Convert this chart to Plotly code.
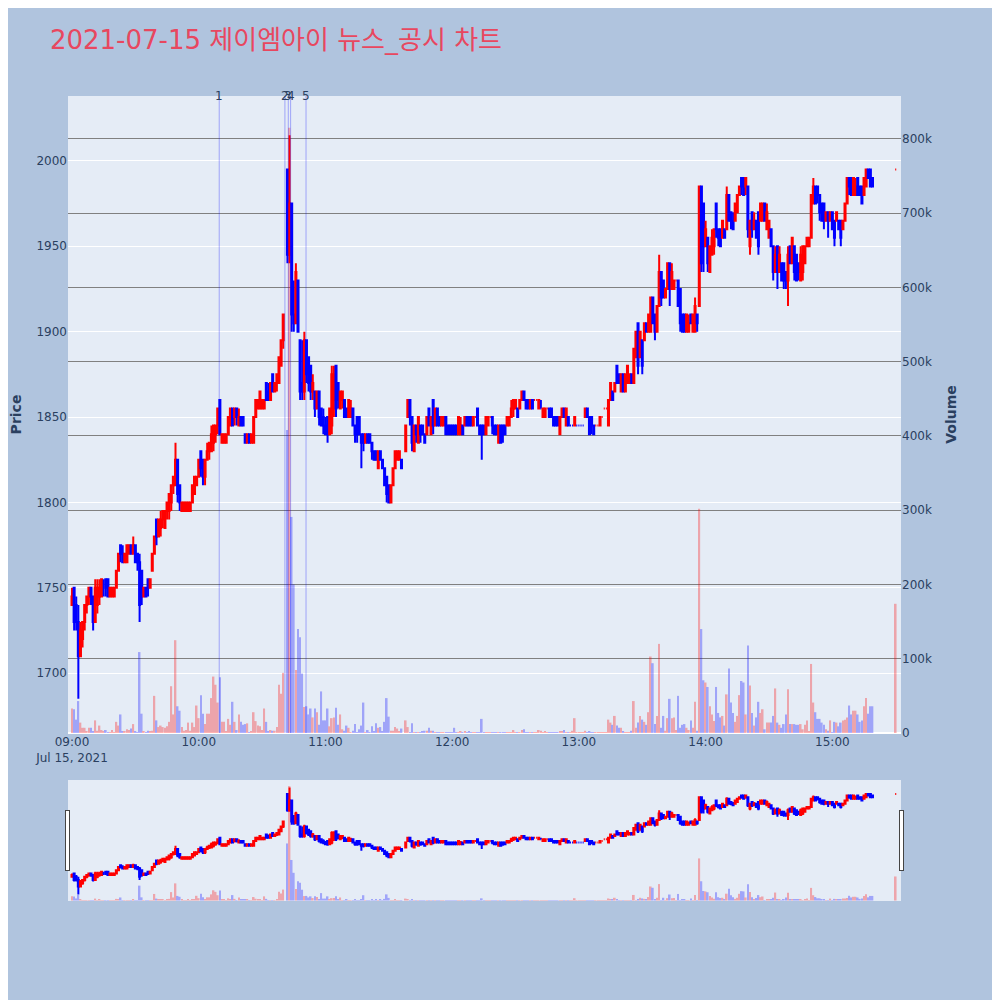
import pandas as pd
import plotly.graph_objects as go

# 1-minute candles 09:00-15:19 plus the 15:30 closing auction (None = no trade)
opens = [
    1740, 1750, 1740, 1730, 1710, 1720, 1730, 1740, 1745, 1750,
    1745, 1730, 1740, 1745, 1745, 1750, 1755, 1755, 1745, 1745,
    1745, 1750, 1760, 1775, 1770, 1765, 1765, 1770, 1775, 1770,
    1775, 1770, 1765, 1760, 1745, 1750, 1755, 1750, 1760, 1770,
    1790, 1780, 1785, 1790, 1785, 1795, 1795, 1800, 1810, 1810,
    1825, 1810, 1795, 1795, 1795, 1795, 1795, 1800, 1805, 1810,
    1815, 1830, 1825, 1815, 1825, 1830, 1830, 1835, 1840, 1845,
    1860, 1835, 1835, 1835, 1840, 1845, 1855, 1850, 1855, 1845,
    1850, 1850, 1840, 1835, 1840, 1835, 1835, 1850, 1855, 1855,
    1855, 1855, 1870, 1865, 1860, 1875, 1865, 1870, 1870, 1880,
    1895, None, 1995, 1945, 1975, 1910, 1905, 1930, 1895, 1870,
    1865, 1895, 1885, 1880, 1865, 1865, 1855, 1865, 1855, 1850,
    1845, 1850, 1840, 1845, 1860, 1880, 1870, 1855, 1860, 1860,
    1855, 1850, 1850, 1855, 1845, 1850, 1850, 1840, 1840, 1835,
    1840, 1840, 1835, 1830, 1830, 1820, 1830, 1825, 1820, 1815,
    1810, 1800, 1810, 1820, 1825, 1825, 1825, None, 1830, 1850,
    1860, 1850, 1830, 1845, 1835, 1845, 1845, 1840, 1840, 1855,
    1840, 1860, 1845, 1855, 1850, 1845, 1845, 1850, 1845, 1845,
    1845, 1845, 1845, 1840, 1840, 1845, 1845, 1850, 1850, 1850,
    1845, 1850, 1855, 1845, 1845, 1845, 1840, 1845, 1850, 1850,
    1845, 1845, 1835, 1845, 1845, 1845, 1845, 1845, 1850, 1855,
    1855, 1855, 1855, 1860, 1865, 1860, 1860, 1855, 1860, 1860,
    1860, 1855, 1855, 1850, 1850, 1855, 1855, 1855, 1850, 1850,
    1850, 1840, 1850, 1855, 1845, 1850, 1845, 1845, 1845, 1845,
    1845, 1845, 1845, 1850, 1855, 1850, 1850, 1845, 1845, 1845,
    1845, 1850, 1855, 1855, 1845, 1860, 1865, 1865, 1880, 1875,
    1865, 1875, 1865, 1870, 1870, 1875, 1870, 1885, 1905, 1885,
    1895, 1895, 1905, 1900, 1900, 1920, 1910, 1900, 1915, 1935,
    1930, 1920, 1925, 1940, 1925, 1925, 1930, 1930, 1925, 1910,
    1910, 1900, 1900, 1910, 1900, 1900, 1910, 1915, 1985, 1975,
    1950, 1955, 1935, 1945, 1950, 1975, 1960, 1960, 1955, 1960,
    1960, 1980, 1970, 1965, 1965, 1970, 1980, 1990, 1990, 1985,
    1985, 1950, 1970, 1960, 1965, 1970, 1965, 1965, 1975, 1960,
    1955, 1960, 1950, 1935, 1950, 1935, 1940, 1940, 1935, 1930,
    1950, 1940, 1950, 1945, 1940, 1930, 1935, 1940, 1950, 1950,
    1955, 1975, 1985, 1985, 1980, 1975, 1975, 1965, 1970, 1965,
    1970, 1965, 1965, 1965, 1965, 1960, 1965, 1975, 1990, 1990,
    1980, 1980, 1990, 1985, 1985, 1980, 1985, 1995, 1995, 1990,
    1995,
]
highs = [
    1750, 1750, 1745, 1740, 1730, 1730, 1740, 1745, 1750, 1750,
    1745, 1755, 1755, 1755, 1755, 1755, 1755, 1755, 1750, 1750,
    1750, 1760, 1770, 1775, 1775, 1770, 1775, 1775, 1775, 1780,
    1775, 1770, 1770, 1760, 1750, 1750, 1755, 1755, 1770, 1780,
    1790, 1790, 1795, 1795, 1795, 1800, 1805, 1810, 1815, 1835,
    1825, 1810, 1800, 1800, 1800, 1800, 1800, 1810, 1815, 1815,
    1825, 1830, 1825, 1825, 1835, 1835, 1845, 1845, 1845, 1855,
    1860, 1840, 1840, 1840, 1850, 1855, 1855, 1855, 1855, 1855,
    1850, 1850, 1840, 1840, 1840, 1840, 1850, 1860, 1860, 1865,
    1860, 1860, 1870, 1870, 1870, 1875, 1870, 1875, 1885, 1895,
    1910, None, 1995, 2015, 1975, 1930, 1940, 1930, 1895, 1895,
    1900, 1895, 1885, 1880, 1875, 1865, 1865, 1865, 1855, 1855,
    1850, 1850, 1855, 1880, 1880, 1880, 1870, 1865, 1865, 1860,
    1855, 1860, 1860, 1855, 1845, 1850, 1850, 1840, 1840, 1840,
    1840, 1840, 1835, 1830, 1830, 1830, 1830, 1825, 1820, 1815,
    1810, 1810, 1820, 1830, 1830, 1830, 1825, None, 1845, 1860,
    1860, 1850, 1845, 1845, 1850, 1845, 1845, 1840, 1850, 1855,
    1850, 1860, 1855, 1855, 1850, 1850, 1850, 1850, 1845, 1845,
    1845, 1845, 1845, 1850, 1850, 1845, 1850, 1850, 1850, 1850,
    1850, 1850, 1855, 1845, 1845, 1845, 1850, 1850, 1850, 1850,
    1845, 1845, 1845, 1845, 1845, 1845, 1850, 1850, 1860, 1860,
    1860, 1855, 1860, 1865, 1865, 1860, 1860, 1860, 1860, 1860,
    1860, 1860, 1860, 1855, 1855, 1855, 1855, 1855, 1850, 1850,
    1850, 1850, 1855, 1855, 1855, 1850, 1845, 1845, 1850, 1845,
    1845, 1845, 1845, 1855, 1855, 1850, 1850, 1845, 1845, 1845,
    1850, 1850, 1855, 1855, 1860, 1870, 1865, 1870, 1880, 1875,
    1875, 1875, 1875, 1880, 1875, 1875, 1890, 1900, 1905, 1900,
    1895, 1905, 1905, 1910, 1920, 1920, 1910, 1915, 1945, 1935,
    1930, 1925, 1940, 1940, 1940, 1930, 1930, 1930, 1925, 1910,
    1910, 1910, 1910, 1910, 1910, 1920, 1910, 1985, 1985, 1975,
    1965, 1955, 1950, 1960, 1960, 1975, 1960, 1960, 1965, 1960,
    1985, 1980, 1970, 1970, 1975, 1980, 1985, 1990, 1990, 1990,
    1985, 1965, 1970, 1970, 1965, 1970, 1975, 1975, 1975, 1975,
    1965, 1960, 1950, 1950, 1950, 1950, 1940, 1940, 1935, 1950,
    1950, 1955, 1950, 1945, 1940, 1950, 1950, 1950, 1955, 1955,
    1980, 1990, 1985, 1985, 1980, 1975, 1975, 1970, 1970, 1970,
    1970, 1965, 1970, 1965, 1965, 1965, 1975, 1990, 1990, 1990,
    1990, 1990, 1990, 1985, 1985, 1990, 1995, 1995, 1995, 1990,
    1995,
]
lows = [
    1740, 1725, 1725, 1685, 1710, 1715, 1725, 1735, 1740, 1740,
    1725, 1730, 1735, 1740, 1745, 1745, 1745, 1745, 1745, 1745,
    1745, 1750, 1760, 1765, 1765, 1765, 1765, 1770, 1770, 1770,
    1765, 1760, 1730, 1740, 1745, 1745, 1745, 1750, 1760, 1770,
    1775, 1780, 1780, 1785, 1785, 1790, 1790, 1795, 1805, 1810,
    1800, 1795, 1795, 1795, 1795, 1795, 1795, 1800, 1805, 1810,
    1815, 1815, 1810, 1810, 1825, 1825, 1830, 1830, 1835, 1840,
    1840, 1835, 1835, 1835, 1840, 1845, 1845, 1845, 1845, 1845,
    1845, 1845, 1835, 1835, 1835, 1835, 1835, 1850, 1855, 1855,
    1855, 1855, 1860, 1860, 1860, 1865, 1865, 1865, 1870, 1880,
    1890, None, 1940, 1940, 1900, 1900, 1905, 1900, 1860, 1860,
    1860, 1870, 1865, 1860, 1860, 1850, 1855, 1845, 1845, 1840,
    1840, 1835, 1840, 1840, 1850, 1850, 1855, 1855, 1855, 1850,
    1850, 1850, 1850, 1845, 1835, 1835, 1840, 1820, 1830, 1835,
    1835, 1835, 1825, 1825, 1825, 1820, 1825, 1820, 1810, 1800,
    1800, 1800, 1810, 1820, 1825, 1825, 1820, None, 1830, 1850,
    1845, 1830, 1830, 1835, 1835, 1835, 1840, 1835, 1840, 1845,
    1840, 1840, 1845, 1845, 1845, 1845, 1845, 1840, 1840, 1840,
    1840, 1840, 1840, 1840, 1840, 1840, 1845, 1845, 1845, 1845,
    1845, 1850, 1845, 1840, 1825, 1840, 1840, 1845, 1850, 1840,
    1840, 1840, 1835, 1835, 1835, 1840, 1845, 1845, 1850, 1850,
    1855, 1850, 1855, 1860, 1860, 1855, 1855, 1855, 1855, 1860,
    1860, 1855, 1855, 1850, 1850, 1855, 1850, 1850, 1845, 1845,
    1845, 1840, 1850, 1850, 1845, 1845, 1845, 1845, 1845, 1845,
    1845, 1845, 1845, 1850, 1850, 1840, 1840, 1840, 1845, 1845,
    1845, 1850, 1855, 1855, 1845, 1860, 1860, 1865, 1870, 1870,
    1865, 1865, 1865, 1870, 1870, 1870, 1870, 1885, 1875, 1885,
    1875, 1895, 1900, 1900, 1900, 1905, 1895, 1900, 1915, 1915,
    1920, 1920, 1925, 1915, 1925, 1925, 1930, 1915, 1900, 1900,
    1900, 1900, 1900, 1905, 1900, 1900, 1900, 1915, 1935, 1935,
    1950, 1935, 1935, 1945, 1945, 1955, 1950, 1950, 1955, 1955,
    1960, 1965, 1960, 1960, 1965, 1970, 1980, 1980, 1980, 1980,
    1955, 1945, 1955, 1960, 1955, 1945, 1965, 1965, 1965, 1960,
    1955, 1950, 1930, 1935, 1925, 1935, 1930, 1925, 1925, 1915,
    1940, 1940, 1930, 1930, 1930, 1930, 1930, 1940, 1950, 1950,
    1955, 1975, 1975, 1975, 1965, 1965, 1960, 1965, 1955, 1965,
    1960, 1950, 1965, 1960, 1950, 1960, 1965, 1975, 1980, 1980,
    1980, 1980, 1980, 1980, 1975, 1980, 1985, 1990, 1985, 1985,
    1995,
]
closes = [
    1745, 1730, 1730, 1710, 1725, 1730, 1740, 1745, 1750, 1745,
    1730, 1750, 1750, 1750, 1755, 1750, 1750, 1745, 1750, 1750,
    1750, 1760, 1770, 1770, 1765, 1770, 1775, 1775, 1770, 1775,
    1765, 1765, 1740, 1745, 1750, 1745, 1750, 1755, 1770, 1780,
    1780, 1790, 1790, 1795, 1795, 1800, 1805, 1810, 1815, 1825,
    1805, 1800, 1800, 1800, 1800, 1800, 1800, 1810, 1815, 1815,
    1825, 1820, 1815, 1825, 1830, 1835, 1840, 1845, 1845, 1855,
    1840, 1840, 1840, 1840, 1850, 1855, 1845, 1855, 1850, 1850,
    1845, 1845, 1835, 1840, 1835, 1840, 1850, 1860, 1860, 1865,
    1860, 1860, 1860, 1860, 1870, 1865, 1870, 1875, 1885, 1895,
    1910, None, 1945, 1975, 1910, 1905, 1935, 1900, 1865, 1865,
    1895, 1875, 1870, 1865, 1870, 1855, 1865, 1850, 1845, 1845,
    1840, 1840, 1855, 1875, 1875, 1855, 1860, 1865, 1865, 1850,
    1850, 1860, 1855, 1845, 1840, 1840, 1840, 1835, 1835, 1840,
    1835, 1835, 1830, 1825, 1825, 1830, 1825, 1820, 1810, 1805,
    1800, 1810, 1820, 1830, 1830, 1830, 1820, None, 1845, 1860,
    1850, 1835, 1845, 1840, 1850, 1840, 1840, 1835, 1850, 1845,
    1850, 1845, 1855, 1845, 1845, 1850, 1850, 1840, 1840, 1840,
    1840, 1840, 1840, 1850, 1845, 1840, 1850, 1845, 1845, 1845,
    1850, 1850, 1845, 1840, 1840, 1840, 1850, 1850, 1850, 1845,
    1840, 1840, 1845, 1835, 1840, 1840, 1850, 1850, 1855, 1860,
    1860, 1850, 1860, 1865, 1860, 1855, 1855, 1860, 1855, 1860,
    1860, 1860, 1855, 1855, 1855, 1855, 1850, 1850, 1845, 1845,
    1845, 1850, 1855, 1850, 1855, 1845, 1845, 1845, 1850, 1845,
    1845, 1845, 1845, 1855, 1850, 1840, 1845, 1840, 1845, 1845,
    1850, 1850, 1855, 1855, 1860, 1870, 1860, 1870, 1870, 1870,
    1875, 1865, 1875, 1880, 1875, 1870, 1890, 1900, 1880, 1900,
    1880, 1905, 1900, 1910, 1920, 1905, 1900, 1915, 1935, 1920,
    1920, 1925, 1940, 1925, 1935, 1930, 1930, 1915, 1905, 1900,
    1900, 1910, 1905, 1905, 1910, 1915, 1905, 1985, 1940, 1950,
    1960, 1940, 1950, 1955, 1960, 1960, 1955, 1950, 1965, 1955,
    1980, 1965, 1965, 1960, 1975, 1980, 1985, 1985, 1980, 1990,
    1960, 1965, 1960, 1965, 1955, 1950, 1975, 1975, 1965, 1970,
    1965, 1950, 1935, 1945, 1935, 1945, 1930, 1930, 1930, 1945,
    1940, 1955, 1935, 1930, 1935, 1945, 1950, 1950, 1955, 1955,
    1980, 1985, 1975, 1980, 1970, 1965, 1965, 1970, 1965, 1970,
    1960, 1955, 1970, 1960, 1955, 1965, 1975, 1990, 1985, 1980,
    1990, 1985, 1980, 1980, 1975, 1990, 1995, 1990, 1985, 1985,
    1995,
]
# volume in thousands of shares
volume_k = [
    33, 32, 18, 43, 14, 7, 7, 2, 7, 7,
    2, 17, 3, 10, 4, 2, 4, 1, 1, 4,
    1, 15, 10, 25, 2, 2, 5, 4, 6, 12,
    2, 1, 109, 26, 2, 1, 3, 2, 3, 50,
    17, 8, 10, 8, 7, 9, 15, 63, 25, 125,
    36, 30, 8, 3, 4, 14, 3, 14, 8, 37,
    20, 51, 26, 12, 26, 26, 47, 76, 65, 41,
    75, 15, 15, 2, 19, 11, 42, 15, 4, 25,
    15, 11, 12, 13, 1, 2, 28, 16, 10, 9,
    4, 33, 15, 2, 4, 3, 3, 8, 65, 53,
    81, 0, 408, 815, 291, 200, 85, 140, 129, 80,
    35, 36, 25, 33, 21, 33, 28, 11, 56, 17,
    17, 33, 9, 20, 21, 34, 11, 25, 5, 3,
    10, 7, 1, 3, 12, 1, 5, 10, 41, 1,
    4, 1, 9, 2, 13, 7, 8, 2, 15, 47,
    22, 3, 3, 8, 6, 2, 6, 0, 17, 8,
    1, 13, 1, 1, 1, 1, 2, 3, 3, 7,
    3, 3, 1, 1, 1, 1, 1, 1, 1, 1,
    1, 7, 1, 1, 2, 1, 2, 1, 2, 1,
    1, 1, 1, 1, 19, 1, 1, 1, 1, 1,
    1, 1, 1, 1, 1, 1, 1, 1, 1, 4,
    1, 1, 1, 4, 5, 1, 1, 1, 1, 1,
    1, 4, 3, 1, 2, 1, 1, 1, 1, 1,
    1, 2, 2, 4, 1, 1, 1, 3, 20, 1,
    1, 1, 1, 3, 1, 2, 1, 1, 1, 1,
    1, 1, 1, 1, 18, 14, 11, 23, 10, 7,
    7, 2, 1, 1, 1, 3, 43, 7, 14, 23,
    18, 15, 11, 28, 103, 94, 12, 23, 120, 7,
    23, 3, 20, 46, 20, 21, 4, 50, 7, 11,
    12, 7, 4, 17, 7, 42, 3, 302, 140, 71,
    68, 62, 36, 25, 16, 62, 27, 21, 23, 10,
    52, 87, 41, 27, 15, 23, 51, 70, 68, 25,
    118, 64, 27, 10, 21, 42, 27, 32, 5, 14,
    14, 14, 23, 60, 14, 11, 7, 12, 25, 59,
    12, 12, 12, 11, 11, 12, 5, 11, 17, 2,
    93, 41, 28, 19, 19, 14, 11, 5, 3, 17,
    1, 15, 14, 9, 14, 17, 18, 21, 37, 25,
    30, 30, 25, 15, 17, 36, 47, 26, 36, 36,
    174,
]

times = list(pd.date_range("2021-07-15 09:00", periods=380, freq="min"))
times.append(pd.Timestamp("2021-07-15 15:30"))

# news / disclosure times
news_times = ["2021-07-15 10:09:42", "2021-07-15 10:40:48", "2021-07-15 10:42:24",
              "2021-07-15 10:43:30", "2021-07-15 10:50:48"]
news_labels = ["1", "2", "3", "4", "5"]

vol = [v * 1000 for v in volume_k]
vol_colors = ["blue" if (o is not None and c < o) else "red" for o, c in zip(opens, closes)]

FONT = "DejaVu Sans, Verdana, Noto Sans CJK KR, sans-serif"

fig = go.Figure()
fig.add_trace(go.Candlestick(
    x=times, open=opens, high=highs, low=lows, close=closes,
    increasing=dict(line=dict(color="red"), fillcolor="red"),
    decreasing=dict(line=dict(color="blue"), fillcolor="blue"),
    name="Price", showlegend=False,
))
fig.add_trace(go.Bar(
    x=times, y=vol, yaxis="y2", marker=dict(color=vol_colors, line=dict(width=0)),
    opacity=0.3, name="Volume", showlegend=False,
))

for t, lab in zip(news_times, news_labels):
    fig.add_shape(type="line", x0=t, x1=t, y0=0, y1=1, xref="x", yref="paper",
                  line=dict(color="blue", width=1), opacity=0.3)
    fig.add_annotation(x=t, y=1, xref="x", yref="paper", text=lab, showarrow=False,
                       yanchor="middle", font=dict(size=12))

xr = ["2021-07-15 08:58:06", "2021-07-15 15:32:30"]
# page body keeps an 8px margin, so the figure is 992px and margins are shifted by 8
fig.update_layout(
    width=992, height=992,
    paper_bgcolor="lightsteelblue",
    font=dict(family=FONT),
    title=dict(text="2021-07-15 제이엠아이 뉴스_공시 차트", x=0.0423, y=0.968,
               xanchor="left", yanchor="middle",
               font=dict(size=26, color="#e8475f", family=FONT)),
    margin=dict(l=60, r=99, t=88, b=100),
    xaxis=dict(range=xr, rangeslider=dict(visible=True, range=xr)),
    yaxis=dict(title=dict(text="<b>Price</b>"), range=[1665, 2038], automargin=False),
    yaxis2=dict(title=dict(text="<b>Volume</b>"), overlaying="y", side="right",
                showgrid=True, gridcolor="gray", automargin=False),
    showlegend=False,
)

fig.write_html("out.html")
